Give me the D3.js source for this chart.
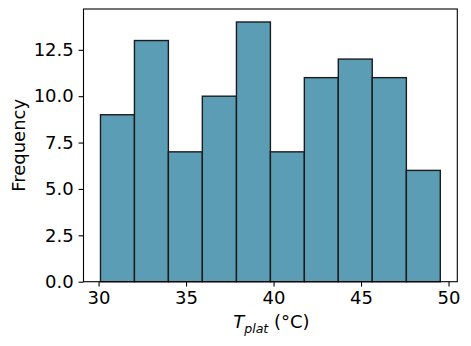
<!DOCTYPE html>
<html>
<head>
<meta charset="utf-8">
<script src="https://cdn.jsdelivr.net/npm/d3@7"></script>
<style>
  body { margin: 0; background: #fff; }
  .axis text { font-family: "DejaVu Sans", sans-serif; font-size: 18px; fill: #000; }
  .axis path, .axis line { stroke: #000; stroke-width: 1.1; }
</style>
</head>
<body>
<div id="chart-area"></div>
<script>
// SVG Size
var width = 471,
    height = 346;

// Plot area
var plotLeft = 83.5, plotRight = 457.3, plotTop = 9, plotBottom = 281.7;

// Histogram data (bin edges and counts)
var binEdges = [30.11, 32.05, 33.99, 35.93, 37.88, 39.82, 41.76, 43.70, 45.64, 47.59, 49.53];
var counts = [9, 13, 7, 10, 14, 7, 11, 12, 11, 6];
var xTicks = [30, 35, 40, 45, 50];
var yTicks = [0, 2.5, 5, 7.5, 10, 12.5];

var bins = counts.map(function(c, i) {
    return { x0: binEdges[i], x1: binEdges[i + 1], count: c };
});

var svg = d3.select("#chart-area")
    .append("svg")
    .attr("width", width)
    .attr("height", height);

// Create scales (matplotlib-style 5% margins on x, top margin on y)
var span = binEdges[binEdges.length - 1] - binEdges[0];
var xScale = d3.scaleLinear()
    .domain([binEdges[0] - span * 0.05, binEdges[binEdges.length - 1] + span * 0.05])
    .range([plotLeft, plotRight]);

var yScale = d3.scaleLinear()
    .domain([0, d3.max(counts) * 1.05])
    .range([plotBottom, plotTop]);

svg.selectAll("rect.bar")
    .data(bins)
    .enter()
    .append("rect")
    .attr("class", "bar")
    .attr("x", d => xScale(d.x0))
    .attr("y", d => yScale(d.count))
    .attr("width", d => xScale(d.x1) - xScale(d.x0))
    .attr("height", d => yScale(0) - yScale(d.count))
    .attr("fill", "#5a9db5")
    .attr("stroke", "#1c1c1c")
    .attr("stroke-width", 1.4);

// Axes
var xAxis = d3.axisBottom(xScale)
    .tickValues(xTicks)
    .tickFormat(d3.format("d"))
    .tickSize(4.9)
    .tickPadding(4.9)
    .tickSizeOuter(0);

var yAxis = d3.axisLeft(yScale)
    .tickValues(yTicks)
    .tickFormat(d3.format(".1f"))
    .tickSize(4.9)
    .tickPadding(4.9)
    .tickSizeOuter(0);

svg.append("g")
    .attr("class", "axis x-axis")
    .attr("transform", "translate(0," + plotBottom + ")")
    .call(xAxis);

svg.append("g")
    .attr("class", "axis y-axis")
    .attr("transform", "translate(" + plotLeft + ",0)")
    .call(yAxis);

svg.selectAll(".axis .domain").remove();

// Frame
svg.append("rect")
    .attr("x", plotLeft)
    .attr("y", plotTop)
    .attr("width", plotRight - plotLeft)
    .attr("height", plotBottom - plotTop)
    .attr("fill", "none")
    .attr("stroke", "#000")
    .attr("stroke-width", 1.1);

// Axis labels
var xLabel = svg.append("text")
    .attr("text-anchor", "middle")
    .attr("x", (plotLeft + plotRight) / 2 + 1)
    .attr("y", 327.5)
    .style("font-family", "DejaVu Sans, sans-serif")
    .style("font-size", "18px");
xLabel.append("tspan").attr("font-style", "italic").text("T");
xLabel.append("tspan").attr("font-style", "italic").attr("font-size", "12.6px").attr("dy", 5).text("plat");
xLabel.append("tspan").attr("dy", -5).text(" (°C)");

svg.append("text")
    .attr("text-anchor", "middle")
    .attr("transform", "translate(25," + ((plotTop + plotBottom) / 2) + ")rotate(-90)")
    .style("font-family", "DejaVu Sans, sans-serif")
    .style("font-size", "18px")
    .text("Frequency");
</script>
</body>
</html>
